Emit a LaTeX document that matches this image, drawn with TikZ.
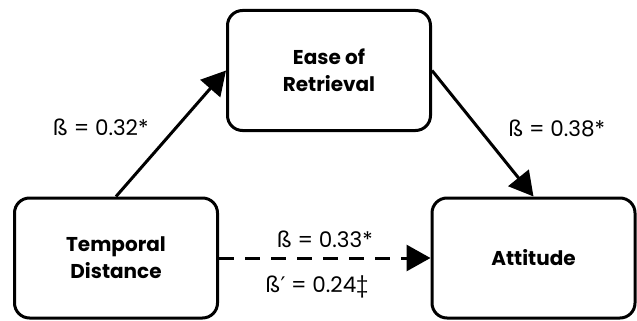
\documentclass[tikz,border=0pt]{standalone}
\usepackage{fontspec}
\setmainfont{Poppins}
\newfontfamily\primefont{DejaVu Sans}
\usetikzlibrary{arrows.meta}

\begin{document}
\begin{tikzpicture}[x=1pt,y=-1pt,
    varbox/.style={draw=black,line width=3pt,rounded corners=15pt,
      minimum width=203pt,minimum height=120pt,align=center,
      font=\fontsize{20}{27}\selectfont\bfseries},
    coef/.style={font=\fontsize{21.5}{24}\selectfont},
    path/.style={line width=3pt,-{Triangle[length=24pt,width=26pt]}}]

     \useasboundingbox (0,0) rectangle (637,321);

     %Variables
     \node[varbox] (ease)     at (329,70.5)  {Ease of\\Retrieval};
     \node[varbox] (temporal) at (116,258)   {Temporal\\Distance};
     \node[varbox] (attitude) at (533.5,258) {Attitude};

     %Paths
     \draw[path] (temporal.north) -- (ease.west);
     \draw[path] (ease.east) -- (attitude.north);
     \draw[path,dash pattern=on 15pt off 11pt] (temporal.east) -- (attitude.west);

     %Coefficients
     \node[coef] (a)  at (101,127) {ß = 0.32*};
     \node[coef] (b)  at (557,128) {ß = 0.38*};
     \node[coef] (c)  at (325,239) {ß = 0.33*};
     \node[coef] (c') at (317,287) {ß{\primefont ′} = 0.24‡};

    \end{tikzpicture}
\end{document}
